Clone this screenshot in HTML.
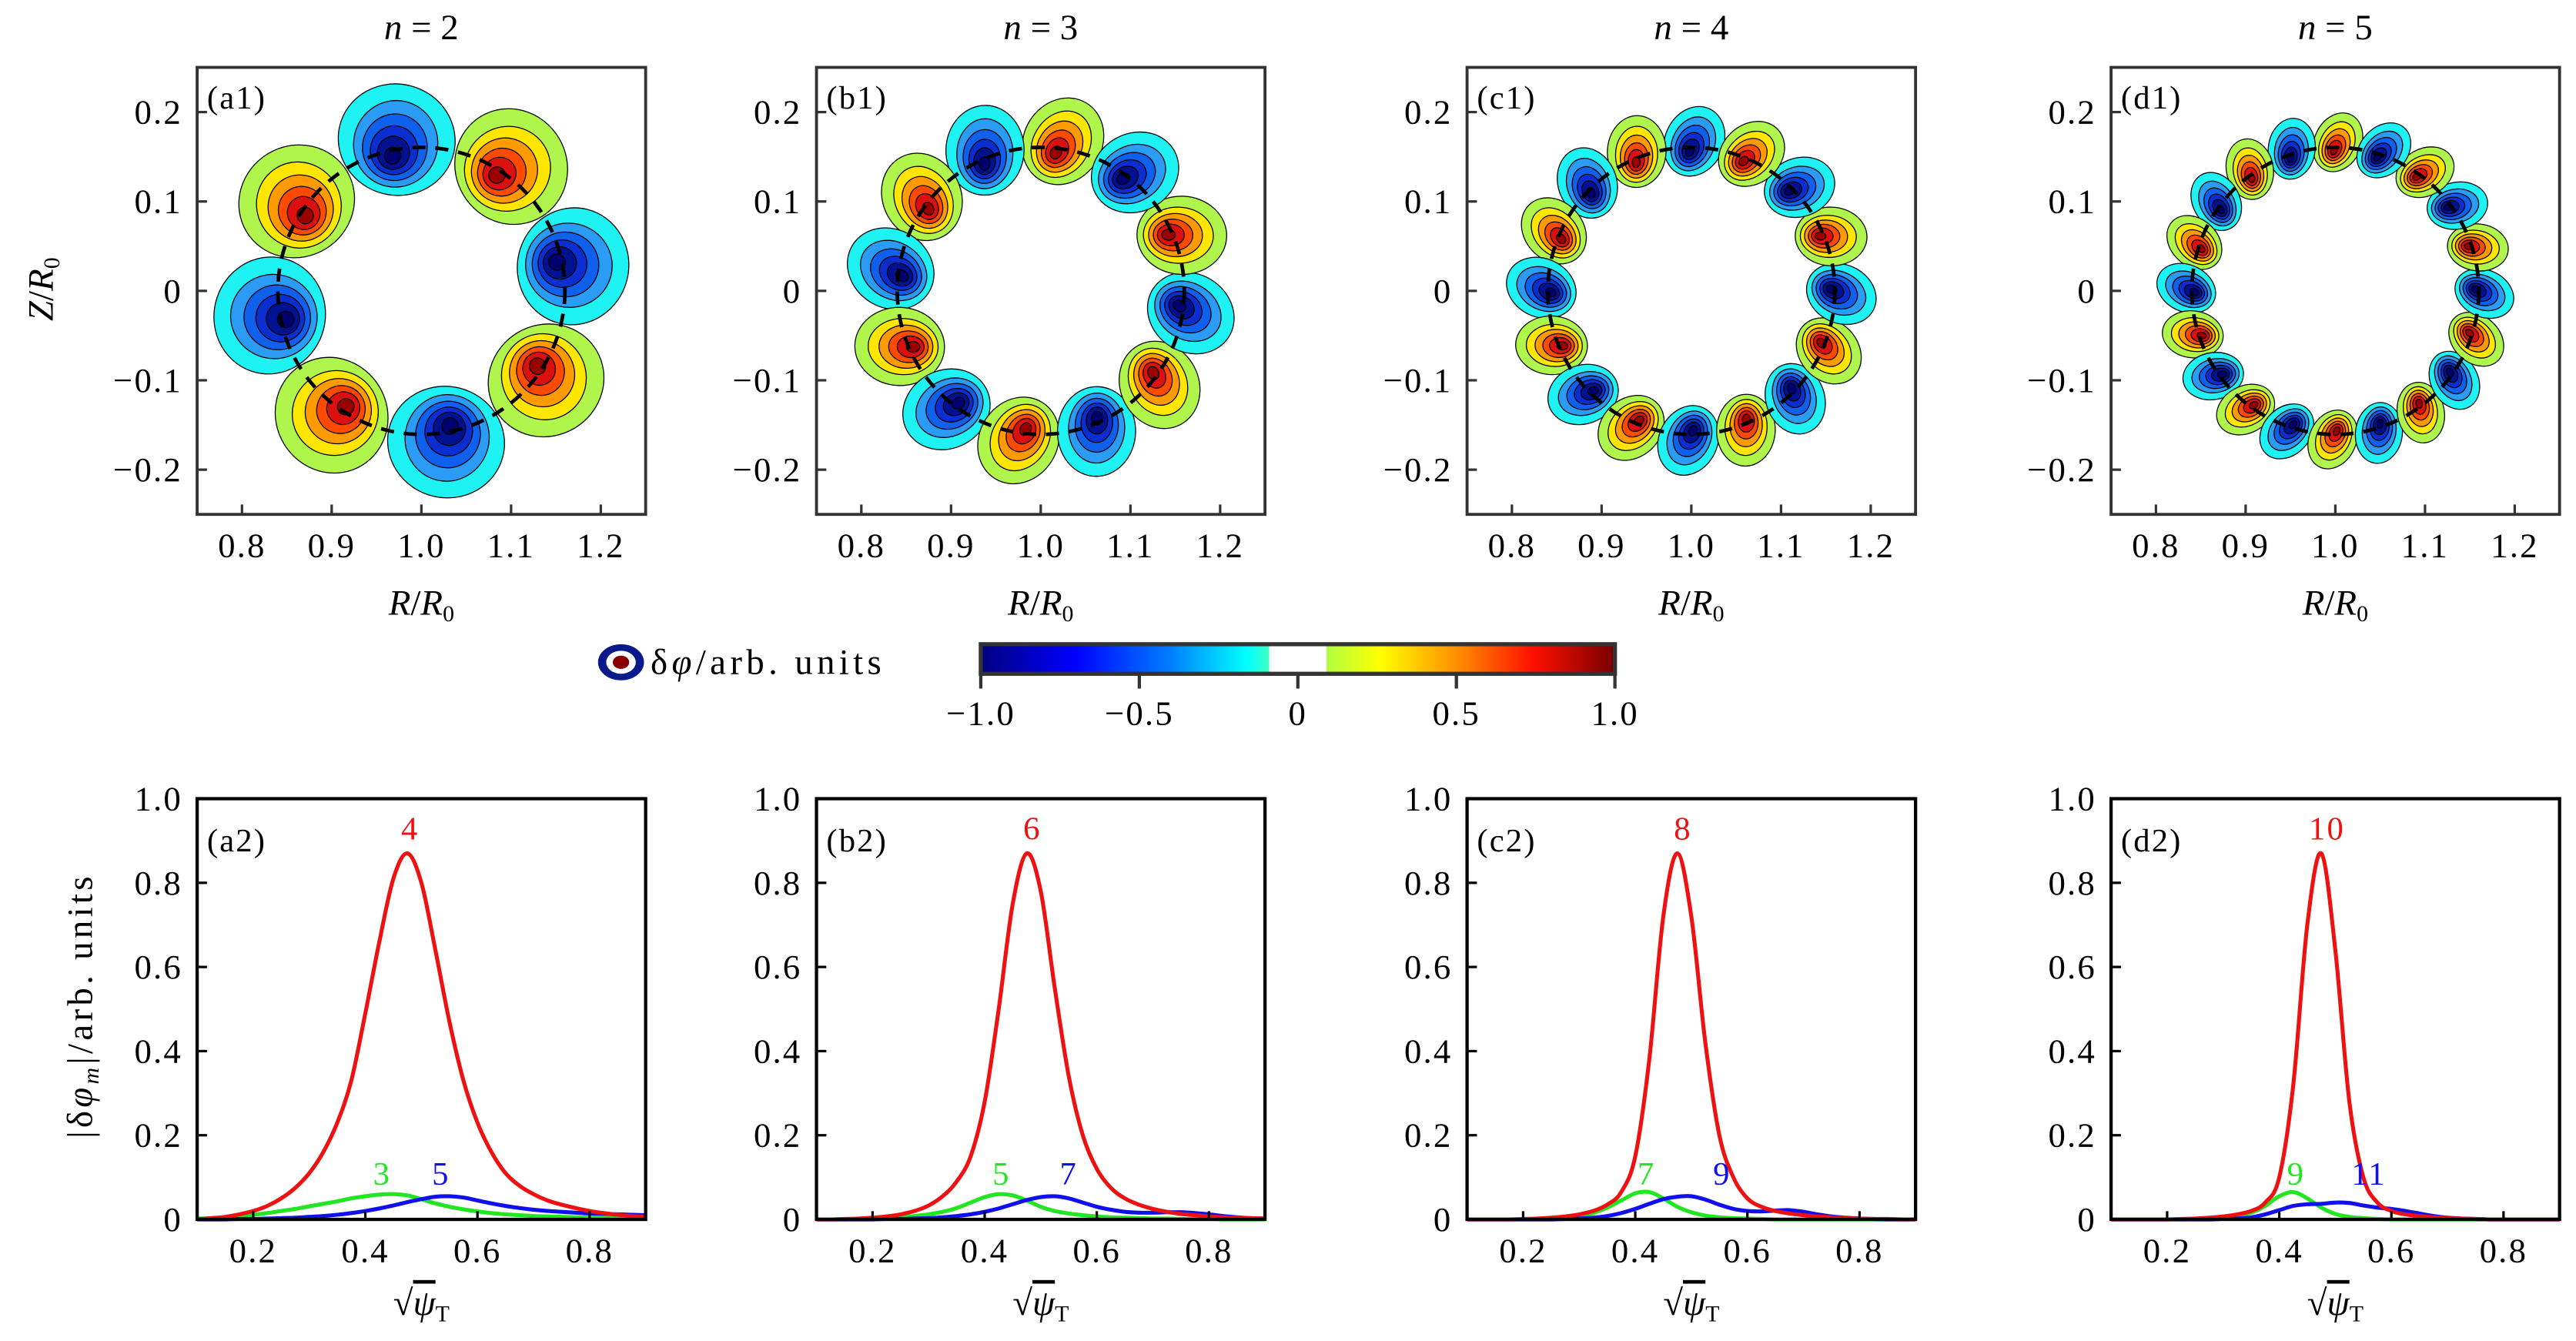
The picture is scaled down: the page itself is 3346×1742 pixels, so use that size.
<!DOCTYPE html>
<html><head><meta charset="utf-8">
<style>
html,body{margin:0;padding:0;background:#fff;}
svg{display:block;}
text{font-family:"Liberation Serif",serif;}
</style></head>
<body>
<svg id="fig" xmlns="http://www.w3.org/2000/svg" width="3346" height="1742" viewBox="0 0 1568 816" preserveAspectRatio="none"></svg>
<script>
// ---------- data ----------
const panelLetters = ["a","b","c","d"];
const toroidalN = [2,3,4,5];
const lobeCounts = [8,12,16,20];
const firstLobeAngle = [101,83,90,90];     // degrees, angle of first lobe
const firstLobeSign = [-1,1,-1,1];         // -1 blue, +1 red
const lobeRadial = [0.062,0.05,0.04,0.034];
const ringRadius = [0.16,0.16,0.16,0.16];

const psiX = [0.1,0.125,0.15,0.175,0.2,0.225,0.25,0.275,0.3,0.325,0.35,0.375,0.4,0.425,0.45,0.475,0.5,0.525,0.55,0.575,0.6,0.625,0.65,0.675,0.7,0.725,0.75,0.775,0.8,0.825,0.85,0.875,0.9];
const redA = [0,0.003,0.006,0.012,0.02,0.032,0.05,0.075,0.11,0.16,0.23,0.33,0.49,0.66,0.81,0.87,0.8,0.64,0.47,0.33,0.23,0.16,0.11,0.08,0.06,0.045,0.035,0.027,0.02,0.015,0.011,0.008,0.006];
const greenA = [0.002,0.003,0.005,0.008,0.011,0.015,0.02,0.025,0.031,0.037,0.043,0.05,0.055,0.059,0.06,0.057,0.048,0.038,0.03,0.024,0.019,0.015,0.012,0.01,0.008,0.007,0.006,0.005,0.004,0.003,0.003,0.002,0.002];
const blueA = [0,0,0,0.001,0.001,0.002,0.003,0.004,0.006,0.008,0.011,0.015,0.02,0.026,0.033,0.041,0.048,0.054,0.055,0.052,0.045,0.038,0.032,0.027,0.023,0.02,0.018,0.016,0.014,0.013,0.012,0.011,0.01];
const redB = [0,0,0.001,0.002,0.004,0.007,0.012,0.02,0.033,0.055,0.09,0.15,0.28,0.5,0.75,0.87,0.78,0.55,0.34,0.2,0.12,0.075,0.05,0.035,0.025,0.018,0.013,0.01,0.007,0.005,0.004,0.003,0.002];
const greenB = [0,0,0,0.001,0.002,0.003,0.005,0.008,0.012,0.018,0.027,0.04,0.053,0.06,0.057,0.045,0.03,0.02,0.014,0.01,0.007,0.005,0.004,0.003,0.002,0.002,0.001,0.001,0.001,0,0,0,0];
const blueB = [0,0,0,0,0,0.001,0.001,0.002,0.003,0.005,0.008,0.012,0.018,0.026,0.036,0.046,0.053,0.055,0.05,0.04,0.03,0.023,0.018,0.016,0.016,0.017,0.017,0.015,0.012,0.008,0.005,0.003,0.002];
const redC = [0,0,0,0,0.001,0.002,0.004,0.007,0.012,0.02,0.035,0.065,0.15,0.38,0.72,0.87,0.72,0.42,0.2,0.1,0.05,0.03,0.02,0.014,0.01,0.007,0.005,0.003,0.002,0.001,0.001,0,0];
const greenC = [0,0,0,0,0,0.001,0.002,0.004,0.008,0.015,0.028,0.045,0.062,0.065,0.05,0.03,0.017,0.009,0.005,0.003,0.002,0.001,0,0,0,0,0,0,0,0,0,0,0];
const blueC = [0,0,0,0,0,0,0,0.001,0.002,0.004,0.008,0.015,0.025,0.037,0.048,0.054,0.055,0.047,0.035,0.025,0.02,0.019,0.021,0.022,0.018,0.012,0.007,0.004,0.002,0.001,0,0,0];
const redD = [0,0,0,0,0,0.001,0.002,0.004,0.007,0.012,0.02,0.04,0.1,0.32,0.7,0.87,0.64,0.28,0.1,0.04,0.02,0.012,0.008,0.005,0.003,0.002,0.001,0,0,0,0,0,0];
const greenD = [0,0,0,0,0,0,0.001,0.002,0.004,0.008,0.016,0.032,0.055,0.065,0.05,0.028,0.013,0.006,0.003,0.001,0,0,0,0,0,0,0,0,0,0,0,0,0];
const blueD = [0,0,0,0,0,0,0,0,0.001,0.002,0.005,0.012,0.022,0.032,0.036,0.037,0.04,0.039,0.033,0.028,0.025,0.02,0.014,0.008,0.004,0.002,0.001,0,0,0,0,0,0];
const redSeries = [redA,redB,redC,redD];
const greenSeries = [greenA,greenB,greenC,greenD];
const blueSeries = [blueA,blueB,blueC,blueD];
const redLabels = ["4","6","8","10"];
const greenLabels = ["3","5","7","9"];
const blueLabels = ["5","7","9","11"];
const labelPosRed = [[0.48,0.93],[0.485,0.93],[0.485,0.93],[0.485,0.93]];
const labelPosGreen = [[0.43,0.11],[0.43,0.11],[0.42,0.11],[0.43,0.11]];
const labelPosBlue = [[0.535,0.11],[0.55,0.11],[0.555,0.11],[0.56,0.11]];
const topXTicks = [0.8,0.9,1.0,1.1,1.2];
const topXTickLabels = ["0.8","0.9","1.0","1.1","1.2"];
const topYTicks = [0.2,0.1,0,-0.1,-0.2];
const topYTickLabels = ["0.2","0.1","0","\u22120.1","\u22120.2"];
const botXTicks = [0.2,0.4,0.6,0.8];
const botXTickLabels = ["0.2","0.4","0.6","0.8"];
const botYTicks = [1.0,0.8,0.6,0.4,0.2,0];
const botYTickLabels = ["1.0","0.8","0.6","0.4","0.2","0"];
const cbarTicks = [-1,-0.5,0,0.5,1];
const cbarTickLabels = ["\u22121.0","\u22120.5","0","0.5","1.0"];

// ---------- layout ----------
const NS="http://www.w3.org/2000/svg";
const svg=document.getElementById('fig');
const lefts=[120,497,893,1285], W=273;
const topY0=41, topH=272, botY0=486, botH=256;
const FS=21;
function mk(tag,attrs,parent){const e=document.createElementNS(NS,tag);for(const k in attrs)e.setAttribute(k,attrs[k]);(parent||svg).appendChild(e);return e;}
function txt(s,x,y,size,parent,anchor,fill){const t=mk('text',{x:x,y:y,'font-size':size,'text-anchor':anchor||'middle',fill:fill||'#000','letter-spacing':1},parent);t.textContent=s;return t;}
function smooth(pts){let d='M'+pts[0][0].toFixed(2)+','+pts[0][1].toFixed(2);
  for(let i=0;i<pts.length-1;i++){const p0=pts[i-1]||pts[i],p1=pts[i],p2=pts[i+1],p3=pts[i+2]||p2;
    const c1=[p1[0]+(p2[0]-p0[0])/6,p1[1]+(p2[1]-p0[1])/6],c2=[p2[0]-(p3[0]-p1[0])/6,p2[1]-(p3[1]-p1[1])/6];
    d+='C'+c1[0].toFixed(2)+','+c1[1].toFixed(2)+' '+c2[0].toFixed(2)+','+c2[1].toFixed(2)+' '+p2[0].toFixed(2)+','+p2[1].toFixed(2);}
  return d;}

const blueCols=["#1ef2f2","#2a9cf5","#1060ee","#0a2ed0","#00128f","#000070"];
const redCols=["#b0f54c","#ffe600","#ff9a00","#ff4a00","#dd1010","#9a0000"];

panelLetters.forEach((L,p)=>{
  const left=lefts[p];
  const g=mk('g',{});
  
  
  const sx=v=>left+(v-0.75)/0.5*W;
  const sy=v=>topY0+(0.25-v)/0.5*topH;
  const k=W/0.5;
  const clipId='clip'+p;
  const cp=mk('clipPath',{id:clipId},g);mk('rect',{x:left,y:topY0,width:W,height:topH},cp);
  const lobes=mk('g',{'clip-path':'url(#'+clipId+')'},g);
  const m=lobeCounts[p], R=ringRadius[p];
  const arc=2*Math.PI*R/m;
  for(let i=0;i<m;i++){
    const ang=(firstLobeAngle[p]+i*360/m)*Math.PI/180;
    const sign=firstLobeSign[p]*(i%2===0?1:-1);
    const cols=sign<0?blueCols:redCols;
    const cx=1.0+R*Math.cos(ang), cz=R*Math.sin(ang);
    const ra=lobeRadial[p]*k, rb=arc*0.52*k;
    const rotDeg=-(ang*180/Math.PI)+25;
    const lg=mk('g',{transform:'translate('+sx(cx)+','+sy(cz)+') rotate('+rotDeg+')'},lobes);
    
    
    const scales=[1,0.78,0.6,0.44,0.3,0.15];
    scales.forEach((s,j)=>{
      const off=(1-s)*ra*0.35;
      mk('ellipse',{cx:(ra*0.2-off).toFixed(2),cy:0,rx:(ra*s).toFixed(2),ry:(rb*s*(j===0?1:0.92)).toFixed(2),fill:cols[j],stroke:'#000','stroke-width':0.6},lg);
    });
  }
  const ring=mk('circle',{cx:sx(1.0),cy:sy(0),r:R*k,fill:'none',stroke:'#000','stroke-width':2.2,'stroke-dasharray':'8,6'},g);
  
  
  mk('rect',{x:left,y:topY0,width:W,height:topH,fill:'none',stroke:'#333','stroke-width':1.8},g);
  topXTicks.forEach((v,j)=>{mk('line',{x1:sx(v),x2:sx(v),y1:topY0+topH,y2:topY0+topH-6,stroke:'#333','stroke-width':1.5},g);
    const t=txt(topXTickLabels[j],sx(v),topY0+topH+26,FS,g);});
  topYTicks.forEach((v,j)=>{mk('line',{x1:left,x2:left+6,y1:sy(v),y2:sy(v),stroke:'#333','stroke-width':1.5},g);
    const t=txt(topYTickLabels[j],left-9,sy(v)+7,FS,g,'end');});
  const pl=txt('('+L+'1)',left+6,topY0+25,20,g,'start');
  const ti=mk('text',{x:left+W/2,y:24,'font-size':22,'text-anchor':'middle',fill:'#000'},g);
  
  ti.innerHTML='<tspan font-style="italic">n</tspan> = '+toroidalN[p];
  const xl=mk('text',{x:left+W/2,y:374,'font-size':22,'text-anchor':'middle',fill:'#000'},g);
  
  xl.innerHTML='<tspan font-style="italic">R</tspan>/<tspan font-style="italic">R</tspan><tspan font-size="14" dy="4">0</tspan>';

  // bottom panel
  const g2=mk('g',{});
  
  
  const bx=v=>left+(v-0.1)/0.8*W;
  const by=v=>botY0+(1-v)*botH;
  const series=[[greenSeries[p],'#22e622','green'],[blueSeries[p],'#1010ee','blue'],[redSeries[p],'#ee1111','red']];
  series.forEach(([arr,col,nm])=>{
    const pts=arr.map((v,j)=>[bx(psiX[j]),by(v)]);
    const pth=mk('path',{d:smooth(pts),fill:'none',stroke:col,'stroke-width':2.4,'stroke-linejoin':'round'},g2);
    
    
  });
  mk('rect',{x:left,y:botY0,width:W,height:botH,fill:'none',stroke:'#000','stroke-width':2},g2);
  botXTicks.forEach((v,j)=>{mk('line',{x1:bx(v),x2:bx(v),y1:botY0+botH,y2:botY0+botH-5,stroke:'#000','stroke-width':1.5},g2);
    const t=txt(botXTickLabels[j],bx(v),botY0+botH+26,FS,g2);});
  botYTicks.forEach((v,j)=>{mk('line',{x1:left,x2:left+6,y1:by(v),y2:by(v),stroke:'#000','stroke-width':1.5},g2);
    const t=txt(botYTickLabels[j],left-9,by(v)+7,FS,g2,'end');});
  const pl2=txt('('+L+'2)',left+6,botY0+32,20,g2,'start');
  const lr=txt(redLabels[p],bx(labelPosRed[p][0]),by(labelPosRed[p][1])+7,20,g2,'middle','#ee1111');
  const lgn=txt(greenLabels[p],bx(labelPosGreen[p][0]),by(labelPosGreen[p][1])+7,20,g2,'middle','#22e622');
  const lb=txt(blueLabels[p],bx(labelPosBlue[p][0]),by(labelPosBlue[p][1])+7,20,g2,'middle','#1010ee');
  const xl2=mk('text',{x:left+W/2,y:800,'font-size':22,'text-anchor':'middle',fill:'#000'},g2);
  
  xl2.innerHTML='\u221A<tspan font-style="italic" text-decoration="overline">\u03C8</tspan><tspan font-size="14" dy="4">T</tspan>';
});

// y axis titles
const yt1=mk('text',{x:0,y:0,'font-size':22,'text-anchor':'middle',fill:'#000',transform:'translate(32,176) rotate(-90)'});

yt1.innerHTML='<tspan font-style="italic">Z</tspan>/<tspan font-style="italic">R</tspan><tspan font-size="14" dy="4">0</tspan>';
const yt2=mk('text',{x:0,y:0,'font-size':22,'text-anchor':'middle',fill:'#000','letter-spacing':2,transform:'translate(56,612) rotate(-90)'});

yt2.innerHTML='|\u03B4<tspan font-style="italic">\u03C6</tspan><tspan font-size="14" dy="4" font-style="italic">m</tspan><tspan dy="-4">|/arb. units</tspan>';

// colorbar
const defs=mk('defs',{});
const grad=mk('linearGradient',{id:'jet',x1:0,x2:1,y1:0,y2:0},defs);
[[0,'#00007f'],[0.15,'#0000ff'],[0.3,'#0080ff'],[0.42,'#00ffff'],[0.455,'#40ffc0'],[0.455,'#ffffff'],[0.545,'#ffffff'],[0.545,'#b0ff40'],[0.63,'#ffff00'],[0.75,'#ff9000'],[0.87,'#ff1000'],[1,'#780000']].forEach(([o,c])=>mk('stop',{offset:o,'stop-color':c},grad));
const cbX0=597,cbX1=983,cbY=392,cbH=18;
const cb=mk('rect',{x:cbX0,y:cbY,width:cbX1-cbX0,height:cbH,fill:'url(#jet)',stroke:'#333','stroke-width':2.5});

const cx=v=>cbX0+(v+1)/2*(cbX1-cbX0);
cbarTicks.forEach((v,j)=>{mk('line',{x1:cx(v),x2:cx(v),y1:cbY+cbH,y2:cbY+cbH+9,stroke:'#333','stroke-width':2});
  const t=txt(cbarTickLabels[j],cx(v),cbY+49,FS);});
const ic=mk('g',{});
mk('ellipse',{cx:378,cy:403,rx:14,ry:11,fill:'#0a1a8a'},ic);
mk('ellipse',{cx:378,cy:403,rx:9,ry:7,fill:'#fff'},ic);
mk('ellipse',{cx:378,cy:403,rx:5,ry:4,fill:'#8a0000'},ic);
const lt=mk('text',{x:396,y:410,'font-size':22,'text-anchor':'start',fill:'#000','letter-spacing':2.5});

lt.innerHTML='\u03B4<tspan font-style="italic">\u03C6</tspan>/arb. units';
</script>
</body></html>
